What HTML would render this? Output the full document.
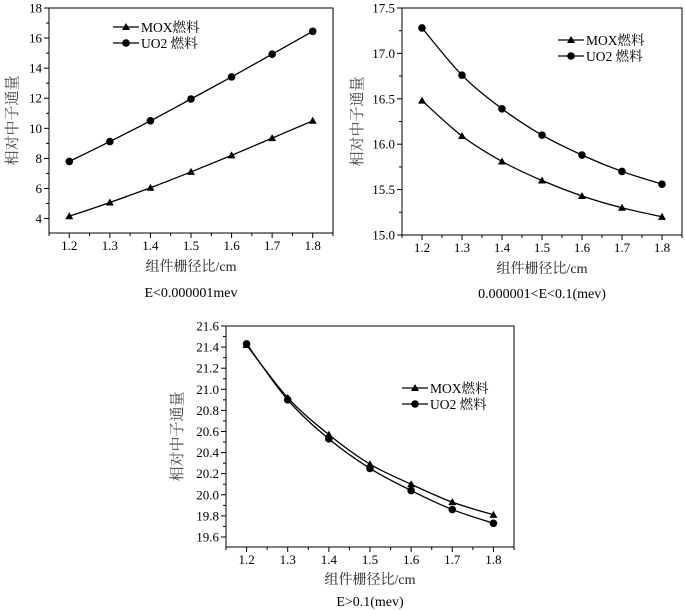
<!DOCTYPE html>
<html><head><meta charset="utf-8">
<style>
html,body{margin:0;padding:0;background:#fff;}
svg{display:block;font-family:"Liberation Serif","Noto Serif CJK SC",serif;}
</style></head>
<body>
<svg id="svg" width="685" height="610" viewBox="0 0 685 610" xmlns="http://www.w3.org/2000/svg"></svg>
<script>
const categories = [1.2, 1.3, 1.4, 1.5, 1.6, 1.7, 1.8];
const xTicks = ["1.2","1.3","1.4","1.5","1.6","1.7","1.8"];
const mox1 = [4.15, 5.07, 6.05, 7.1, 8.2, 9.35, 10.5];
const uo21 = [7.8, 9.12, 10.5, 11.95, 13.42, 14.93, 16.45];
const yTicks1 = [4, 6, 8, 10, 12, 14, 16, 18];
const mox2 = [16.48, 16.09, 15.81, 15.6, 15.43, 15.3, 15.2];
const uo22 = [17.28, 16.76, 16.39, 16.1, 15.88, 15.7, 15.56];
const yTicks2 = [15.0, 15.5, 16.0, 16.5, 17.0, 17.5];
const mox3 = [21.42, 20.92, 20.57, 20.29, 20.1, 19.93, 19.81];
const uo23 = [21.43, 20.9, 20.53, 20.25, 20.04, 19.86, 19.73];
const yTicks3 = [19.6, 19.8, 20.0, 20.2, 20.4, 20.6, 20.8, 21.0, 21.2, 21.4, 21.6];
const seriesNames = ["MOX燃料", "UO2 燃料"];

const NS = "http://www.w3.org/2000/svg";
const svg = document.getElementById("svg");
function mk(tag, attrs, parent) {
  const e = document.createElementNS(NS, tag);
  for (const k in attrs) e.setAttribute(k, attrs[k]);
  (parent || svg).appendChild(e);
  return e;
}
function smooth(pts) {
  let d = "M" + pts[0][0] + "," + pts[0][1];
  for (let i = 0; i < pts.length - 1; i++) {
    const p0 = pts[Math.max(0, i - 1)], p1 = pts[i], p2 = pts[i + 1], p3 = pts[Math.min(pts.length - 1, i + 2)];
    const c1x = p1[0] + (p2[0] - p0[0]) / 6, c1y = p1[1] + (p2[1] - p0[1]) / 6;
    const c2x = p2[0] - (p3[0] - p1[0]) / 6, c2y = p2[1] - (p3[1] - p1[1]) / 6;
    d += " C" + c1x + "," + c1y + " " + c2x + "," + c2y + " " + p2[0] + "," + p2[1];
  }
  return d;
}
function tri(g, x, y) {
  return mk("polygon", {points: (x) + "," + (y - 4) + " " + (x - 4) + "," + (y + 3) + " " + (x + 4) + "," + (y + 3), fill: "#000"}, g);
}
function draw(cfg) {
  const g = mk("g", {});
  
  
  const L = cfg.L, R = cfg.R, T = cfg.T, B = cfg.B;
  const xs = v => L + (v - 1.15) / 0.7 * (R - L);
  const ys = v => B - (v - cfg.ymin) / (cfg.ymax - cfg.ymin) * (B - T);
  const frame = mk("rect", {x: L, y: T, width: R - L, height: B - T, fill: "none", stroke: "#000", "stroke-width": 1}, g);
  
  
  categories.forEach((c, i) => {
    const x = xs(c);
    mk("line", {x1: x, y1: B, x2: x, y2: B + 5, stroke: "#000"}, g);
    const m = xs(c - 0.05);
    mk("line", {x1: m, y1: B, x2: m, y2: B + 3, stroke: "#000"}, g);
    const t = mk("text", {x: x, y: B + 17, "text-anchor": "middle", "font-size": 13}, g);
    t.textContent = xTicks[i];
    
    
  });
  mk("line", {x1: xs(1.85), y1: B, x2: xs(1.85), y2: B + 3, stroke: "#000"}, g);
  cfg.yt.forEach((v, i) => {
    const y = ys(v);
    mk("line", {x1: L - 5, y1: y, x2: L, y2: y, stroke: "#000"}, g);
    if (i > 0) {
      const m = ys(v - cfg.step / 2);
      mk("line", {x1: L - 3, y1: m, x2: L, y2: m, stroke: "#000"}, g);
    }
    const t = mk("text", {x: L - 7, y: y + 4.5, "text-anchor": "end", "font-size": 13}, g);
    t.textContent = cfg.fmt(v);
    
    
  });
  const yt = mk("text", {x: cfg.ytx, y: (T + B) / 2, "text-anchor": "middle", "font-size": 15, fill: "#444", transform: "rotate(-90 " + cfg.ytx + " " + (T + B) / 2 + ")", "font-family": "'Noto Serif CJK SC',serif"}, g);
  yt.textContent = "相对中子通量";
  
  
  const xt = mk("text", {x: (L + R) / 2, y: cfg.xty, "text-anchor": "middle", "font-size": 14, fill: "#222"}, g);
  xt.textContent = "组件栅径比/cm";
  
  
  const cap = mk("text", {x: cfg.capx, y: cfg.capy, "text-anchor": "middle", "font-size": 14}, g);
  cap.textContent = cfg.caption;
  
  
  [cfg.mox, cfg.uo2].forEach((vals, si) => {
    const pts = vals.map((v, i) => [xs(categories[i]), ys(v)]);
    const p = mk("path", {d: smooth(pts), fill: "none", stroke: "#000", "stroke-width": 1.3}, g);
    
    
    pts.forEach(pt => {
      let m;
      if (si === 0) m = tri(g, pt[0], pt[1]);
      else m = mk("circle", {cx: pt[0], cy: pt[1], r: 3.8, fill: "#000"}, g);
      
      
    });
  });
  seriesNames.forEach((n, si) => {
    const y = cfg.lgy + si * 16;
    const lg = mk("g", {}, g);
    
    
    mk("line", {x1: cfg.lgx, y1: y, x2: cfg.lgx + 26, y2: y, stroke: "#000", "stroke-width": 1.3}, lg);
    if (si === 0) tri(lg, cfg.lgx + 13, y);
    else mk("circle", {cx: cfg.lgx + 13, cy: y, r: 3.8, fill: "#000"}, lg);
    const t = mk("text", {x: cfg.lgx + 28, y: y + 5, "font-size": 13.5}, lg);
    t.textContent = n;
  });
}
draw({name: "chart-low-energy", L: 49, R: 333, T: 8, B: 233, ymin: 3.04, ymax: 18, yt: yTicks1, step: 2, fmt: v => String(v),
  mox: mox1, uo2: uo21, ytx: 17, xty: 271, capx: 191, capy: 297, caption: "E<0.000001mev", lgx: 113, lgy: 27});
draw({name: "chart-mid-energy", L: 402, R: 682, T: 8, B: 235, ymin: 15.0, ymax: 17.5, yt: yTicks2, step: 0.5, fmt: v => v.toFixed(1),
  mox: mox2, uo2: uo22, ytx: 362, xty: 273, capx: 542, capy: 298, caption: "0.000001<E<0.1(mev)", lgx: 558, lgy: 40});
draw({name: "chart-high-energy", L: 226, R: 514, T: 326, B: 547, ymin: 19.505, ymax: 21.6, yt: yTicks3, step: 0.2, fmt: v => v.toFixed(1),
  mox: mox3, uo2: uo23, ytx: 182, xty: 584, capx: 370, capy: 606, caption: "E>0.1(mev)", lgx: 402, lgy: 388});
</script>
</body></html>
